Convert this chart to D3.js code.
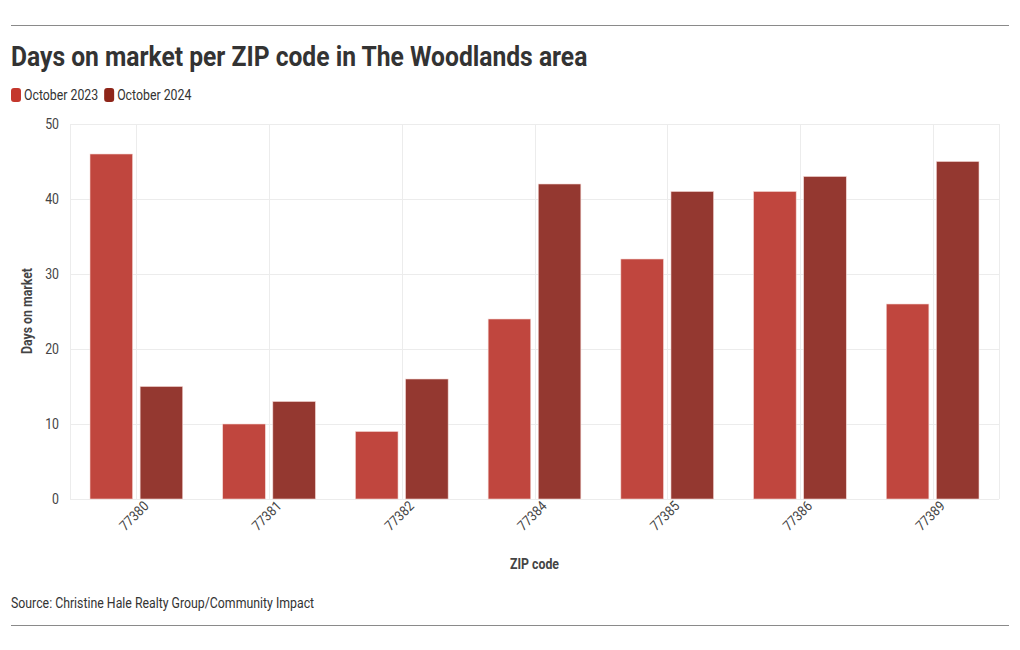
<!DOCTYPE html>
<html>
<head>
<meta charset="utf-8">
<script src="https://cdn.jsdelivr.net/npm/d3@7"></script>
<style>
  body { margin: 0; background: #fff; }
  svg { display: block; font-family: "Roboto", sans-serif; }
</style>
</head>
<body>
<svg id="chart" width="1020" height="650"></svg>
<script>
// data
let zipCodes = ['77380', '77381', '77382', '77384', '77385', '77386', '77389']
let oct2023 = [46, 10, 9, 24, 32, 41, 26]
let oct2024 = [15, 13, 16, 42, 41, 43, 45]
let seriesNames = ['October 2023', 'October 2024']
let yTicks = [0, 10, 20, 30, 40, 50]

let barColors = ['#c0463e', '#943830']
let swatchColors = ['#c4372d', '#8e2519']

// no condensed font installed, so squeeze Roboto a bit
let squeeze = 0.88

drawChart()

function label(svg, x, y, txt) {
  return svg.append('text')
    .attr('transform', `translate(${x},${y}) scale(${squeeze},1)`)
    .text(txt)
}

function drawChart() {
  let width = 1020
  let margin = { top: 124, right: 21, bottom: 151, left: 70 }
  let height = 650

  const svg = d3.select('#chart')

  // rules top and bottom
  svg.append('line')
    .attr('x1', 11).attr('x2', 1009).attr('y1', 25.5).attr('y2', 25.5)
    .attr('stroke', '#8a8a8a').attr('stroke-width', 1)
  svg.append('line')
    .attr('x1', 11).attr('x2', 1009).attr('y1', 625.5).attr('y2', 625.5)
    .attr('stroke', '#8a8a8a').attr('stroke-width', 1)

  label(svg, 11, 66, 'Days on market per ZIP code in The Woodlands area')
    .attr('font-size', 28).attr('font-weight', 700)
    .attr('fill', '#333')

  // legend
  let legend = svg.append('g').attr('transform', 'translate(11,88)')
  let lx = 0
  seriesNames.forEach((name, i) => {
    let g = legend.append('g').attr('transform', `translate(${lx},0)`)
    g.append('rect')
      .attr('width', 10).attr('height', 14).attr('rx', 3)
      .attr('fill', swatchColors[i])
    let t = label(g, 13, 12, name)
      .attr('font-size', 14).attr('fill', '#333')
    lx += 13 + t.node().getComputedTextLength() * squeeze + 6
  })

  let x = d3.scaleBand()
    .domain(zipCodes)
    .range([margin.left, width - margin.right])

  let x1 = d3.scaleBand()
    .domain([0, 1])
    .range([20, x.bandwidth() - 20])
    .paddingInner(0.15)

  let y = d3.scaleLinear()
    .domain([0, 50])
    .range([height - margin.bottom, margin.top])

  // grid
  let grid = svg.append('g').attr('stroke', '#ececec').attr('stroke-width', 1)
  grid.selectAll('line.h')
    .data(yTicks)
    .enter()
    .append('line')
    .attr('x1', margin.left).attr('x2', width - margin.right)
    .attr('y1', d => Math.round(y(d)) + 0.5).attr('y2', d => Math.round(y(d)) + 0.5)
  let vx = [margin.left].concat(zipCodes.map(z => x(z) + x.bandwidth() / 2)).concat([width - margin.right])
  grid.selectAll('line.v')
    .data(vx)
    .enter()
    .append('line')
    .attr('x1', d => Math.round(d) + 0.5).attr('x2', d => Math.round(d) + 0.5)
    .attr('y1', margin.top).attr('y2', height - margin.bottom)

  // bars
  let rows = zipCodes.map((z, i) => ({ zip: z, values: [oct2023[i], oct2024[i]] }))
  svg.append('g')
    .selectAll('g')
    .data(rows)
    .enter()
    .append('g')
    .attr('transform', d => `translate(${x(d.zip)},0)`)
    .selectAll('rect')
    .data(d => d.values.map((v, i) => ({ v, i })))
    .enter()
    .append('rect')
    .attr('x', d => x1(d.i))
    .attr('y', d => y(d.v))
    .attr('width', x1.bandwidth())
    .attr('height', d => y(0) - y(d.v))
    .attr('fill', d => barColors[d.i])
    .attr('stroke', '#f3d6d3')
    .attr('stroke-width', 0.6)

  // y axis
  let yAxis = svg.append('g')
    .attr('transform', `translate(${margin.left},0)`)
    .call(d3.axisLeft(y).tickValues(yTicks).tickSize(0).tickPadding(0))
  yAxis.select('.domain').remove()
  yAxis.selectAll('text')
    .attr('x', null)
    .attr('font-size', 14).attr('fill', '#444')
    .attr('font-family', '"Roboto", sans-serif')
    .attr('transform', `translate(-11,0) scale(${squeeze},1)`)

  // x axis
  let xAxis = svg.append('g')
    .attr('transform', `translate(0,${height - margin.bottom})`)
    .call(d3.axisBottom(x).tickSize(0).tickPadding(8))
  xAxis.select('.domain').remove()
  xAxis.selectAll('text')
    .attr('font-size', 14).attr('fill', '#444')
    .attr('font-family', '"Roboto", sans-serif')
    .style('text-anchor', 'end')
    .attr('dx', '0.3em')
    .attr('dy', '0.5em')
    .attr('transform', `rotate(-45) scale(${squeeze},1)`)

  label(svg, 32, 311, 'Days on market')
    .attr('transform', `translate(32,311) rotate(-90) scale(${squeeze},1)`)
    .attr('text-anchor', 'middle')
    .attr('font-size', 14).attr('font-weight', 700).attr('fill', '#444')

  label(svg, (margin.left + width - margin.right) / 2, 569, 'ZIP code')
    .attr('text-anchor', 'middle')
    .attr('font-size', 14).attr('font-weight', 700).attr('fill', '#444')

  label(svg, 11, 608, 'Source: Christine Hale Realty Group/Community Impact')
    .attr('font-size', 14).attr('fill', '#333')
}
</script>
</body>
</html>
